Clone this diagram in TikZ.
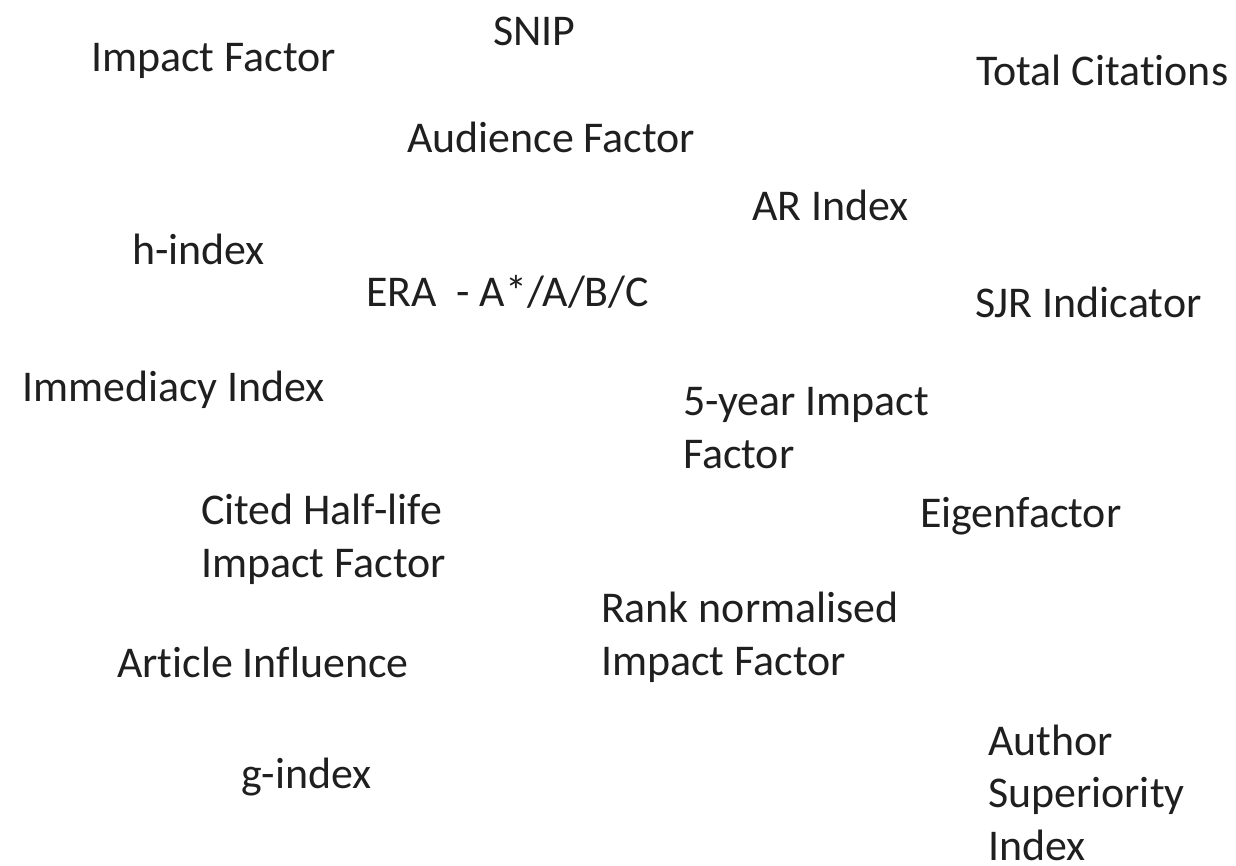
\documentclass[tikz,border=0pt]{standalone}
\usepackage{fontspec}
\setmainfont{Carlito}[Ligatures=CommonOff]
\begin{document}
\begin{tikzpicture}[x=1pt,y=-1pt,
  lbl/.style={anchor=base west,inner sep=0pt,outer sep=0pt,text=black!88,
    font=\fontsize{43.9}{52.5}\selectfont,align=left}]
\useasboundingbox (0,0) rectangle (1236,866);
\node[lbl] (if)   at (91,72)  {Impact Factor};
\node[lbl] (snip) at (493,46) {SNIP};
\node[lbl] (tc)   at (976,86) {Total Citations};
\node[lbl] (af)   at (407,153) {Audience Factor};
\node[lbl] (ar)   at (752,221) {AR Index};
\node[lbl] (h)    at (132,265) {h-index};
\node[lbl] (era)  at (366,307) {ERA\ \ - A*/A/B/C};
\node[lbl] (sjr)  at (975,318) {SJR Indicator};
\node[lbl] (imm)  at (22,401) {Immediacy Index};
\node[lbl] (fy)   at (683,468) {5-year Impact\\Factor};
\node[lbl] (chl)  at (201,577) {Cited Half-life\\Impact Factor};
\node[lbl] (eig)  at (920,527) {Eigenfactor};
\node[lbl] (rn)   at (601,675) {Rank normalised\\Impact Factor};
\node[lbl] (ai)   at (117,677) {Article Influence};
\node[lbl,text depth=0pt] (asi)  at (988,860) {Author\\Superiority\\Index};
\node[lbl] (g)    at (241,788) {g-index};
\end{tikzpicture}
\end{document}
